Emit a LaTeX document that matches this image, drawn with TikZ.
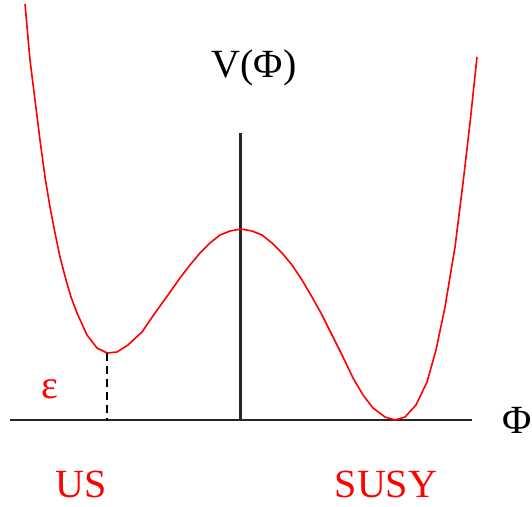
\documentclass[tikz,border=0pt]{standalone}
\usepackage{fontspec}
\setmainfont{Liberation Serif}
\newfontfamily\lblfont{Liberation Serif}
\usetikzlibrary{positioning}

\begin{document}
\begin{tikzpicture}[
    x=1pt, y=-1pt,
    axis/.style={draw=black!85, line width=2.4pt},
    pot/.style={draw=red, line width=1.6pt, line join=round},
    lbl/.style={font=\lblfont\fontsize{40}{44}\selectfont, inner sep=0pt, anchor=base},
    vac/.style={lbl, text=red}
  ]
  \useasboundingbox (0,0) rectangle (532,506);

  % axes
  \coordinate (xl) at (10,420);
  \coordinate (xr) at (472,420);
  \coordinate (yb) at (240.5,420);
  \coordinate (yt) at (240.5,133);
  \draw[axis] (xl) -- (xr);
  \draw[axis] (yb) -- (yt);

  \node[lbl] (vphi) at (254,77) {V(Φ)};
  \node[lbl, anchor=base west] (phi) at (502,433) {Φ};

  % potential
  \draw[pot] plot coordinates {
    (25,4) (30,60) (35,100) (40,140) (45,177) (50,207) (55,233) (60,257)
    (66,280) (71,297) (77,313) (87,335) (97,348) (107,353) (117,352)
    (128,345) (142,332) (155,313) (168,295) (180,278) (190,265) (200,253)
    (210,243) (220,235) (230,231) (241,229) (252,231) (262,235) (272,243)
    (282,253) (292,265) (302,280) (312,297) (322,315) (333,337) (343,357)
    (353,378) (363,395) (373,408) (385,417) (395,420) (405,417) (416,405)
    (427,382) (436,350) (445,307) (455,247) (463,183) (470,123) (477,57)};

  % false vacuum
  \coordinate (usmin) at (107,353);
  \coordinate (usbase) at (107,420);
  \draw[line width=1.5pt, dash pattern=on 8pt off 5pt] (usmin) -- (usbase);

  \node[vac] (eps)  at (50,398)  {ε};
  \node[vac] (us)   at (81,497)  {US};
  \node[vac] (susy) at (386,497) {SUSY};
\end{tikzpicture}
\end{document}
